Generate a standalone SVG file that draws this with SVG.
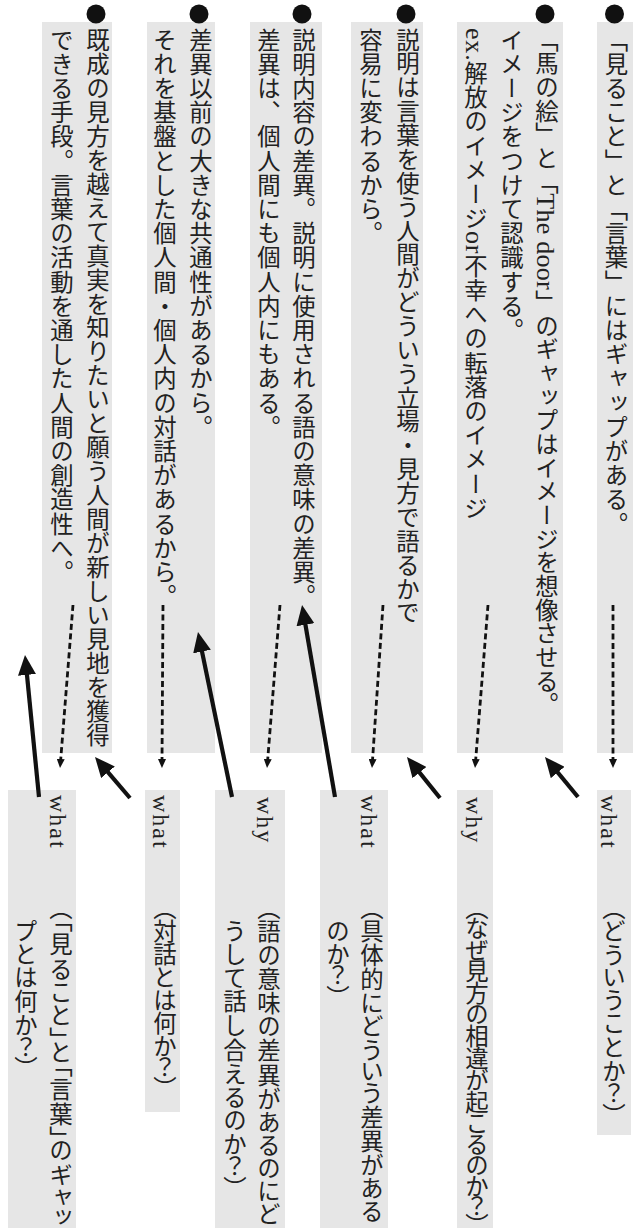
<svg xmlns="http://www.w3.org/2000/svg" width="636" height="1228" viewBox="0 0 636 1228">
<defs>
<style>
.box{fill:#e6e6e6}
.dot{fill:#111}
.t{font-family:"Liberation Serif","Noto Sans CJK JP",serif;font-size:23.4px;letter-spacing:0.8px;fill:#222;writing-mode:vertical-rl}
.q{font-feature-settings:"vpal" 1}
.en{font-size:26px}
.lat{font-family:"Liberation Serif",serif;font-size:24px;letter-spacing:2px;fill:#222;writing-mode:vertical-rl}
.dash{stroke:#111;stroke-width:2.8;stroke-dasharray:6 3.5;fill:none}
.solid{stroke:#111;stroke-width:4.2;fill:none}
</style>
<marker id="ah" markerUnits="userSpaceOnUse" markerWidth="20" markerHeight="18" viewBox="0 0 20 18" refX="12" refY="9" orient="auto"><path d="M0,0 L20,9 L0,18 Z" fill="#111"/></marker>
<marker id="sh" markerUnits="userSpaceOnUse" markerWidth="9" markerHeight="8" viewBox="0 0 9 8" refX="3" refY="4" orient="auto"><path d="M0,0 L9,4 L0,8 Z" fill="#111"/></marker>
</defs>
<rect width="636" height="1228" fill="#ffffff"/>

<g id="n1">
<rect class="box" x="597" y="22" width="36" height="731"/>
<circle class="dot" cx="614.5" cy="14" r="9.5"/>
<text class="t" x="614.5" y="28">「見ること」と「言葉」にはギャップがある。</text>
</g>
<g id="n2">
<rect class="box" x="457" y="22" width="106" height="731"/>
<circle class="dot" cx="545" cy="14" r="9.5"/>
<text class="t" x="545" y="28" textLength="689" lengthAdjust="spacing">「馬の絵」と「<tspan class="en">The door</tspan>」のギャップはイメージを想像させる。</text>
<text class="t" x="510" y="28">イメージをつけて認識する。</text>
<text class="t" x="474" y="28"><tspan class="en">ex.</tspan>解放のイメージ<tspan class="en">or</tspan>不幸への転落のイメージ</text>
</g>
<g id="n3">
<rect class="box" x="351" y="22" width="72" height="731"/>
<circle class="dot" cx="406" cy="14" r="9.5"/>
<text class="t" x="406" y="28" textLength="597" lengthAdjust="spacing">説明は言葉を使う人間がどういう立場・見方で語るかで</text>
<text class="t" x="369" y="28">容易に変わるから。</text>
</g>
<g id="n4">
<rect class="box" x="250" y="22" width="72" height="731"/>
<circle class="dot" cx="302" cy="14" r="9.5"/>
<text class="t" x="302" y="28">説明内容の差異。説明に使用される語の意味の差異。</text>
<text class="t" x="267" y="28">差異は、個人間にも個人内にもある。</text>
</g>
<g id="n5">
<rect class="box" x="147" y="22" width="68" height="731"/>
<circle class="dot" cx="199" cy="14" r="9.5"/>
<text class="t" x="199" y="28">差異以前の大きな共通性があるから。</text>
<text class="t" x="163" y="28">それを基盤とした個人間・個人内の対話があるから。</text>
</g>
<g id="n6">
<rect class="box" x="42" y="22" width="70" height="731"/>
<circle class="dot" cx="96" cy="14" r="9.5"/>
<text class="t" x="96" y="28" textLength="720" lengthAdjust="spacing">既成の見方を越えて真実を知りたいと願う人間が新しい見地を獲得</text>
<text class="t" x="60" y="28">できる手段。言葉の活動を通した人間の創造性へ。</text>
</g>

<g id="n7">
<rect class="box" x="597" y="790" width="34" height="345"/>
<text class="lat" x="609" y="795">what</text>
<text class="t q" x="612" y="907" textLength="210" lengthAdjust="spacing">（どういうことか？）</text>
</g>
<g id="n8">
<rect class="box" x="457" y="790" width="36" height="438"/>
<text class="lat" x="474" y="797">why</text>
<text class="t q" x="475" y="907" textLength="320" lengthAdjust="spacing">（なぜ見方の相違が起こるのか？）</text>
</g>
<g id="n9">
<rect class="box" x="320" y="790" width="68" height="438"/>
<text class="lat" x="369" y="795">what</text>
<text class="t q" x="370" y="907" textLength="316" lengthAdjust="spacing">（具体的にどういう差異がある</text>
<text class="t q" x="336" y="920">のか？）</text>
</g>
<g id="n10">
<rect class="box" x="215" y="790" width="70" height="438"/>
<text class="lat" x="265" y="797">why</text>
<text class="t q" x="267" y="907" textLength="320" lengthAdjust="spacing">（語の意味の差異があるのにど</text>
<text class="t q" x="233" y="920" textLength="270" lengthAdjust="spacing">うして話し合えるのか？）</text>
</g>
<g id="n11">
<rect class="box" x="145" y="790" width="35" height="322"/>
<text class="lat" x="161" y="795">what</text>
<text class="t q" x="163" y="907" textLength="183" lengthAdjust="spacing">（対話とは何か？）</text>
</g>
<g id="n12">
<rect class="box" x="8" y="790" width="68" height="438"/>
<text class="lat" x="58" y="795">what</text>
<text class="t q" x="59" y="907" textLength="320" lengthAdjust="spacing">（「見ること」と「言葉」のギャッ</text>
<text class="t q" x="24" y="920" textLength="150" lengthAdjust="spacing">プとは何か？）</text>
</g>

<g id="connectors">
<line class="dash" x1="613" y1="605" x2="613" y2="762" marker-end="url(#sh)"/>
<line class="dash" x1="488" y1="605" x2="475.5" y2="762" marker-end="url(#sh)"/>
<line class="dash" x1="383" y1="605" x2="372.4" y2="762" marker-end="url(#sh)"/>
<line class="dash" x1="280" y1="605" x2="267.5" y2="762" marker-end="url(#sh)"/>
<line class="dash" x1="163" y1="605" x2="162" y2="762" marker-end="url(#sh)"/>
<line class="dash" x1="73" y1="605" x2="60.5" y2="762" marker-end="url(#sh)"/>
<line class="solid" x1="578" y1="797" x2="550.1" y2="763.2" marker-end="url(#ah)"/>
<line class="solid" x1="440" y1="798" x2="412" y2="763.2" marker-end="url(#ah)"/>
<line class="solid" x1="335" y1="797" x2="303.4" y2="612.9" marker-end="url(#ah)"/>
<line class="solid" x1="232" y1="797" x2="199.6" y2="639.8" marker-end="url(#ah)"/>
<line class="solid" x1="130" y1="798" x2="100.2" y2="763.1" marker-end="url(#ah)"/>
<line class="solid" x1="39" y1="797" x2="25.8" y2="663" marker-end="url(#ah)"/>
</g>
</svg>
